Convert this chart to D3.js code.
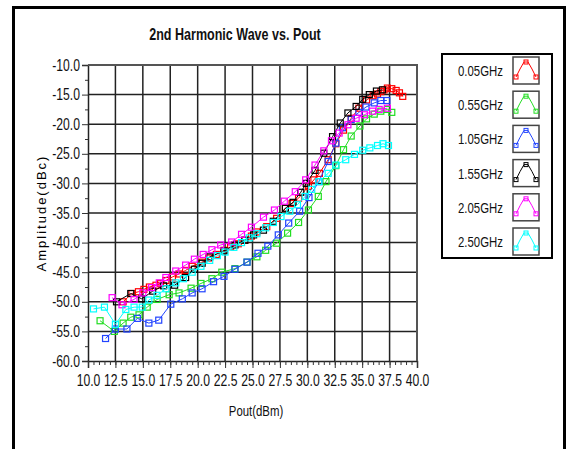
<!DOCTYPE html>
<html>
<head>
<meta charset="utf-8">
<script src="https://cdn.jsdelivr.net/npm/d3@7"></script>
<style>
  body { margin: 0; background: #fff; }
  svg { display: block; }
</style>
</head>
<body>
<svg id="chart" width="569" height="449"></svg>
<script>
// series: [Pout dBm, amplitude dBc]
const freqs = ["0.05GHz", "0.55GHz", "1.05GHz", "1.55GHz", "2.05GHz", "2.50GHz"]
const colors = ["#ff0000", "#22dd22", "#2244ff", "#000000", "#ff00ff", "#00ffff"]

const s005 = [[13.2,-50.0],[14.0,-48.6],[14.6,-48.3],[15.1,-47.9],[15.6,-47.5],[16.2,-47.2],[16.6,-46.9],[17.1,-46.4],[17.7,-45.8],[18.3,-45.3],[18.9,-44.7],[19.5,-44.0],[20.4,-43.3],[21.0,-42.6],[21.7,-42.0],[22.4,-41.3],[23.0,-40.7],[23.7,-40.2],[24.3,-39.6],[24.9,-38.9],[25.4,-38.2],[26.3,-37.3],[27.2,-35.9],[28.0,-34.2],[28.6,-33.4],[29.2,-32.5],[30.1,-30.5],[30.6,-29.4],[31.1,-28.3],[31.9,-26.0],[32.6,-23.3],[33.3,-21.0],[34.0,-19.0],[34.7,-17.3],[35.4,-15.9],[36.0,-15.2],[36.4,-14.9],[36.7,-14.5],[37.0,-14.2],[37.3,-13.9],[37.7,-14.0],[38.1,-14.3],[38.4,-14.7],[38.7,-15.3]]
const s055 = [[11.1,-53.2],[12.4,-55.0],[13.2,-53.6],[13.9,-52.6],[14.65,-52.2],[15.4,-50.9],[16.3,-49.6],[17.4,-48.8],[18.3,-48.5],[19.4,-47.7],[20.3,-46.9],[21.3,-46.1],[22.2,-45.0],[23.4,-44.4],[24.5,-43.3],[25.4,-42.4],[26.2,-41.3],[27.2,-40.1],[28.2,-38.4],[29.2,-36.6],[30.1,-34.5],[31.0,-32.2],[31.7,-29.7],[32.6,-27.0],[33.3,-24.3],[34.0,-22.0],[34.8,-20.3],[35.4,-19.1],[36.1,-18.3],[36.7,-17.8],[37.3,-17.5],[37.7,-18.0]]
const s105 = [[11.6,-56.2],[12.5,-54.6],[13.55,-54.6],[14.5,-52.8],[15.55,-53.6],[16.45,-53.1],[17.55,-50.4],[18.6,-49.5],[19.5,-48.5],[20.4,-47.8],[21.45,-46.6],[22.4,-45.7],[23.4,-44.5],[24.5,-43.3],[25.5,-41.8],[26.4,-40.6],[27.35,-38.7],[28.3,-36.7],[29.3,-34.7],[30.15,-32.4],[31.05,-29.7],[31.9,-26.3],[32.6,-23.2],[33.2,-20.6],[34.0,-19.2],[34.7,-18.0],[35.35,-17.1],[36.1,-16.4],[36.7,-16.0],[37.25,-16.0]]
const s155 = [[12.6,-50.0],[13.9,-48.6],[14.9,-49.5],[15.9,-48.2],[16.9,-47.3],[17.9,-47.2],[18.9,-45.9],[19.7,-44.5],[20.4,-43.5],[21.1,-42.4],[22.4,-41.4],[23.4,-40.4],[24.3,-39.6],[25.1,-38.7],[26.0,-37.9],[26.9,-36.4],[28.0,-34.2],[28.7,-33.2],[29.4,-31.5],[29.9,-30.0],[30.7,-27.8],[31.5,-24.9],[32.3,-22.1],[33.0,-19.8],[33.7,-18.1],[34.45,-17.0],[35.05,-15.8],[35.65,-15.0],[36.3,-14.4],[36.85,-14.2]]
const s205 = [[12.2,-49.3],[13.1,-50.5],[14.2,-49.6],[15.0,-48.5],[15.8,-47.6],[16.5,-46.8],[17.1,-45.9],[18.0,-44.8],[18.9,-43.8],[19.7,-42.8],[20.5,-42.0],[21.3,-41.2],[22.1,-40.4],[23.1,-39.9],[24.0,-38.6],[24.9,-37.4],[26.0,-35.7],[27.0,-34.5],[27.9,-33.0],[28.9,-31.4],[29.85,-29.4],[30.7,-26.9],[31.5,-24.5],[32.2,-22.8],[32.9,-21.5],[33.7,-20.1],[34.45,-19.0],[35.2,-18.4],[35.95,-17.8],[36.55,-17.5],[37.3,-17.3]]
const s250 = [[10.5,-51.2],[11.5,-50.9],[12.5,-53.8],[13.45,-51.3],[14.2,-50.9],[14.95,-50.9],[15.55,-49.7],[16.3,-48.9],[17.1,-47.8],[18.0,-46.8],[18.7,-46.1],[19.5,-45.0],[20.3,-44.0],[21.1,-43.0],[21.8,-42.2],[22.5,-41.6],[23.3,-40.8],[24.0,-40.0],[24.7,-39.2],[25.4,-38.5],[26.2,-37.5],[26.9,-36.6],[27.6,-35.6],[28.4,-34.7],[29.1,-33.6],[29.8,-32.2],[30.4,-31.0],[31.05,-29.7],[31.9,-28.3],[32.6,-26.9],[33.5,-26.0],[34.3,-25.1],[35.05,-24.4],[35.7,-24.0],[36.4,-23.6],[36.9,-23.3],[37.4,-23.6]]

const series = [s005, s055, s105, s155, s205, s250]

const xTicks = d3.range(10, 40.01, 2.5)
const xMinor = d3.range(10, 40.01, 0.5)
const yTicks = d3.range(-60, -9.99, 5)
const yMinor = d3.range(-57.5, -10, 5)

const svg = d3.select("#chart")
const font = "'Liberation Sans', Arial, sans-serif"
const squeeze = 0.76   // the reference text is horizontally condensed

// outer frame
svg.append("rect")
    .attr("x", 13.5).attr("y", 7.5)
    .attr("width", 551).attr("height", 470)
    .attr("fill", "none").attr("stroke", "#000").attr("stroke-width", 3)

const x = d3.scaleLinear().domain([10, 40]).range([88, 417])
const y = d3.scaleLinear().domain([-60, -10]).range([361, 65])

// grid
const grid = svg.append("g").attr("stroke", "#222").attr("stroke-width", 1.5)
grid.selectAll(".gx").data(xTicks.slice(1)).enter().append("line")
    .attr("x1", d => x(d)).attr("x2", d => x(d))
    .attr("y1", y(-10)).attr("y2", y(-60))
grid.selectAll(".gy").data(yTicks.slice(1)).enter().append("line")
    .attr("x1", x(10)).attr("x2", x(40))
    .attr("y1", d => y(d)).attr("y2", d => y(d))

// axes
const fmt = d => d.toFixed(1)

svg.append("g").attr("class", "yaxis").attr("transform", `translate(${x(10)},0)`)
    .call(d3.axisLeft(y).tickValues(yTicks).tickFormat(fmt).tickSize(6).tickPadding(2))
svg.append("g").attr("transform", `translate(${x(10)},0)`)
    .call(d3.axisLeft(y).tickValues(yMinor).tickFormat("").tickSize(3))
    .select(".domain").remove()

svg.append("g").attr("class", "xaxis").attr("transform", `translate(0,${y(-60)})`)
    .call(d3.axisBottom(x).tickValues(xTicks).tickFormat(fmt).tickSize(7).tickPadding(7))
svg.append("g").attr("transform", `translate(0,${y(-60)})`)
    .call(d3.axisBottom(x).tickValues(xMinor).tickFormat("").tickSize(4))
    .select(".domain").remove()

svg.selectAll(".domain").attr("stroke", "#222").attr("stroke-width", 1.5)
svg.selectAll(".tick line").attr("stroke", "#333")
svg.selectAll(".tick text")
    .attr("font-family", font).attr("font-size", 16).attr("fill", "#111")
    .attr("transform", `scale(${squeeze},1)`)
svg.selectAll(".yaxis .tick text").attr("x", -8 / squeeze)

// plot border top/right
svg.append("path")
    .attr("d", `M${x(10)},${y(-10)}H${x(40)}V${y(-60)}`)
    .attr("fill", "none").attr("stroke", "#555").attr("stroke-width", 2)

// series
const line = d3.line().x(d => x(d[0])).y(d => y(d[1]))
const plot = svg.append("g")
series.forEach((s, i) => {
    plot.append("path").datum(s)
        .attr("d", line)
        .attr("fill", "none")
        .attr("stroke", colors[i]).attr("stroke-width", 1)
    plot.selectAll(".m" + i).data(s).enter().append("rect")
        .attr("x", d => x(d[0]) - 3).attr("y", d => y(d[1]) - 3)
        .attr("width", 6).attr("height", 6)
        .attr("fill", "none")
        .attr("stroke", colors[i]).attr("stroke-width", 1.2)
})

// condensed text helper
function label(px, py, txt, size, anchor, weight) {
    return svg.append("text")
        .attr("transform", `translate(${px},${py}) scale(${squeeze},1)`)
        .attr("text-anchor", anchor)
        .attr("font-family", font).attr("font-size", size)
        .attr("font-weight", weight || "normal").attr("fill", "#111")
        .text(txt)
}

label(235, 40, "2nd Harmonic Wave vs. Pout", 16.5, "middle", "bold")
label(256, 416, "Pout(dBm)", 15, "middle")

svg.append("text")
    .attr("transform", "translate(46,213) rotate(-90)")
    .attr("text-anchor", "middle")
    .attr("font-family", font).attr("font-size", 13)
    .attr("letter-spacing", 2)
    .text("Amplitude(dBc)")

// legend
svg.append("rect")
    .attr("x", 442).attr("y", 54).attr("width", 110).attr("height", 204)
    .attr("fill", "#fff").attr("stroke", "#000").attr("stroke-width", 2)

const icon = [[3, 20], [7, 12], [11, 5], [15, 5], [19, 12], [23, 20]]
const iconMarks = [[3, 20], [13, 5], [23, 20]]

freqs.forEach((f, i) => {
    const top = 57 + i * 34.2
    label(503, top + 19, f, 15, "end")
    const g = svg.append("g").attr("transform", `translate(513,${top})`)
    g.append("rect").attr("width", 26).attr("height", 27)
        .attr("fill", "#fff").attr("stroke", "#444").attr("stroke-width", 1.5)
    g.append("path").attr("d", d3.line()(icon))
        .attr("fill", "none").attr("stroke", colors[i])
    g.selectAll("rect.mk").data(iconMarks).enter().append("rect")
        .attr("class", "mk")
        .attr("x", d => d[0] - 2).attr("y", d => d[1] - 2)
        .attr("width", 4).attr("height", 4)
        .attr("fill", "none").attr("stroke", colors[i])
})
</script>
</body>
</html>
